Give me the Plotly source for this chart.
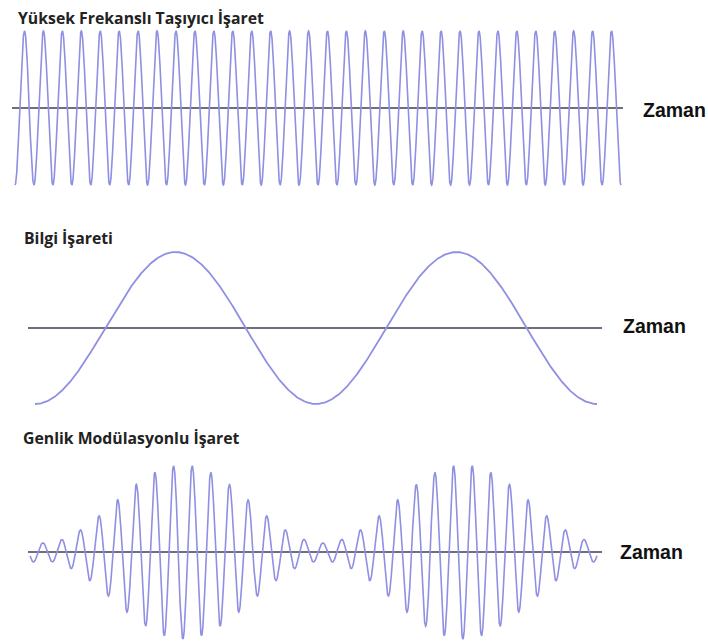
import numpy as np
import plotly.graph_objects as go

W, H = 708, 642

# ---- values ----
titles = ["Yüksek Frekanslı Taşıyıcı İşaret", "Bilgi İşareti", "Genlik Modülasyonlu İşaret"]
axis_label = "Zaman"
carrier_cycles_top = 32          # carrier periods in the top panel
info_cycles = 2                  # information-signal periods
carrier_per_info = 15            # carrier periods per information period (AM panel)
am_index = 0.81                  # modulation depth
am_t_start, am_t_end = -0.046, 1.979   # AM span, in information periods

# ---- layout geometry (pixels) ----
# panel: (curve x0, curve x1, axis x0, axis x1, centre y, amplitude px)
geom = [
    (15, 621, 12, 623, 108, 77),
    (35, 597, 28, 602, 328, 76),
    (30, 597, 28, 602, 552, 87),
]
label_pos = [(641, 110), (621, 326), (618, 552)]
title_pos = [(16, 18), (22, 238), (21, 438)]

CURVE = "#8f8fe3"
AXIS = "#6e6e7e"

# ---- signals ----
t1 = np.linspace(0, 1, 6000)
y1 = -np.cos(2 * np.pi * carrier_cycles_top * t1)

t2 = np.linspace(0, info_cycles, 2000)
y2 = -np.cos(2 * np.pi * t2)

t3 = np.linspace(am_t_start, am_t_end, 6000)
env = (1 - am_index * np.cos(2 * np.pi * t3)) / (1 + am_index)
y3 = env * -np.cos(2 * np.pi * carrier_per_info * (t3 - 0.5))

series = [(t1, y1), (t2, y2), (t3, y3)]

fig = go.Figure()
layout = dict(width=W, height=H, margin=dict(l=0, r=0, t=0, b=0),
              paper_bgcolor="white", plot_bgcolor="rgba(0,0,0,0)", showlegend=False)

for i, ((t, y), g) in enumerate(zip(series, geom)):
    x0, x1, ax0, ax1, cy, amp = g
    ta, tb = t[0], t[-1]
    b = (x1 - x0) / (tb - ta)          # px per time unit
    a = x0 - b * ta
    xr = [(0 - a) / b, (W - a) / b]
    yr = [(cy - H) / amp, cy / amp]
    xa = "x" if i == 0 else f"x{i+1}"
    ya = "y" if i == 0 else f"y{i+1}"
    key = "" if i == 0 else str(i + 1)
    layout["xaxis" + key] = dict(domain=[0, 1], range=xr, visible=False, fixedrange=True,
                                 anchor=ya)
    layout["yaxis" + key] = dict(domain=[0, 1], range=yr, visible=False, fixedrange=True,
                                 anchor=xa)
    # zero (time) axis
    fig.add_trace(go.Scatter(x=[(ax0 - a) / b, (ax1 - a) / b], y=[0, 0], mode="lines",
                             line=dict(color=AXIS, width=1.8), xaxis=xa, yaxis=ya,
                             hoverinfo="skip"))
    fig.add_trace(go.Scatter(x=t, y=y, mode="lines",
                             line=dict(color=CURVE, width=1.6 if i != 1 else 1.8),
                             xaxis=xa, yaxis=ya, hoverinfo="skip"))

fig.update_layout(**layout)

ann = []
for (tx, ty), txt in zip(title_pos, titles):
    ann.append(dict(x=tx / W, y=1 - ty / H, xref="paper", yref="paper",
                    text=txt, showarrow=False, xanchor="left", yanchor="middle",
                    font=dict(family="Open Sans", size=15.8, color="#222222", weight="bold")))
for (lx, ly) in label_pos:
    ann.append(dict(x=lx / W, y=1 - ly / H, xref="paper", yref="paper",
                    text=axis_label, showarrow=False, xanchor="left", yanchor="middle",
                    font=dict(family="Liberation Sans", size=19.5, color="#111111",
                              weight="bold")))
fig.update_layout(annotations=ann)

fig.write_html(
    "out.html",
    config={"displayModeBar": False, "staticPlot": True},
    post_script="document.body.style.margin='0';"
                "document.documentElement.style.overflow='hidden';"
                "document.body.style.overflow='hidden';",
)
